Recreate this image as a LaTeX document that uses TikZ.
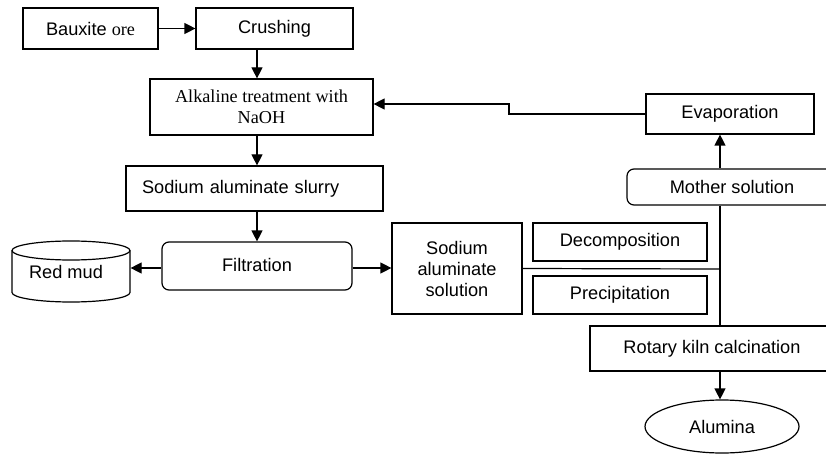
\documentclass[tikz,border=0pt]{standalone}
\usepackage{fontspec}
\setmainfont{Liberation Sans}
\newfontfamily\serifA{Liberation Serif}
\usetikzlibrary{arrows.meta,shapes.geometric}
\begin{document}
\begin{tikzpicture}[x=1pt,y=-1pt,line width=1.2pt,
  box/.style={draw,rectangle,inner sep=0pt,font=\fontsize{18.2}{21}\selectfont,align=center},
  rbox/.style={box,rounded corners=7pt},
  arr/.style={-{Triangle[length=11pt,width=11pt]}}]
\clip (0,0) rectangle (826,454);
\fill[white] (0,0) rectangle (826,454);
% nodes
\node[box,minimum width=135,minimum height=41] (baux) at (90.5,28.5) {Bauxite {\serifA ore}};
\node[box,minimum width=157,minimum height=41] (crush) at (274.5,28.5) {Crushing};
\node[box,minimum width=223,minimum height=56,font=\serifA\fontsize{18.2}{21}\selectfont] (alk) at (261.5,107) {Alkaline treatment with\\NaOH};
\node[box,minimum width=257,minimum height=45,text width=225,align=left] (slurry) at (254.5,188.5) {Sodium aluminate slurry};
\node[rbox,minimum width=190,minimum height=48] (filt) at (257,266) {\raisebox{3pt}{Filtration}};
\node[box,draw=none,minimum width=118,minimum height=42] (redmud) at (71,272) {\hspace*{-10pt}Red mud};
\node[box,minimum width=130,minimum height=91] (sol) at (457,268.5) {Sodium\\aluminate\\solution};
\node[box,minimum width=174,minimum height=38] (decomp) at (620,242) {Decomposition};
\node[box,minimum width=174,minimum height=38] (precip) at (620,295) {Precipitation};
\node[box,minimum width=168,minimum height=40] (evap) at (730,114) {Evaporation};
\node[rbox,minimum width=210,minimum height=36] (mother) at (732,187) {Mother solution};
\node[box,minimum width=244,minimum height=45] (rot) at (712,348.5) {Rotary kiln calcination};
\node[box,ellipse,minimum width=154,minimum height=53] (alumina) at (722,426.5) {Alumina};
% cylinder outline for red mud
\draw (71,250.5) ellipse [x radius=59pt,y radius=9.5pt];
\draw (12,250.5) -- (12,292.5) arc[start angle=180,end angle=360,x radius=59pt,y radius=9.5pt] -- (130,250.5);
% helper coordinates
\coordinate (trunk) at (720,269);
\coordinate (ret) at (509,104);
% connectors
\draw[arr] (baux) -- (crush);
\draw[arr] (crush.south -| filt.north) -- (alk.north -| filt.north);
\draw[arr] (alk.south -| filt.north) -- (slurry.north -| filt.north);
\draw[arr] (slurry.south -| filt.north) -- (filt.north);
\draw[arr] (filt.west |- 0,268) -- (redmud.east |- 0,268);
\draw[arr] (filt.east |- 0,268) -- (sol.west |- 0,268);
\draw (sol.east) -- (trunk);
\draw (mother.south -| trunk) -- (rot.north -| trunk);
\draw[arr] (mother.north -| trunk) -- (evap.south -| trunk);
\draw[arr] (rot.south -| trunk) -- (trunk |- alumina.north);
\draw[arr] (evap.west) -- (evap.west -| ret) -- (ret) -- (alk.east |- ret);
\end{tikzpicture}
\end{document}
